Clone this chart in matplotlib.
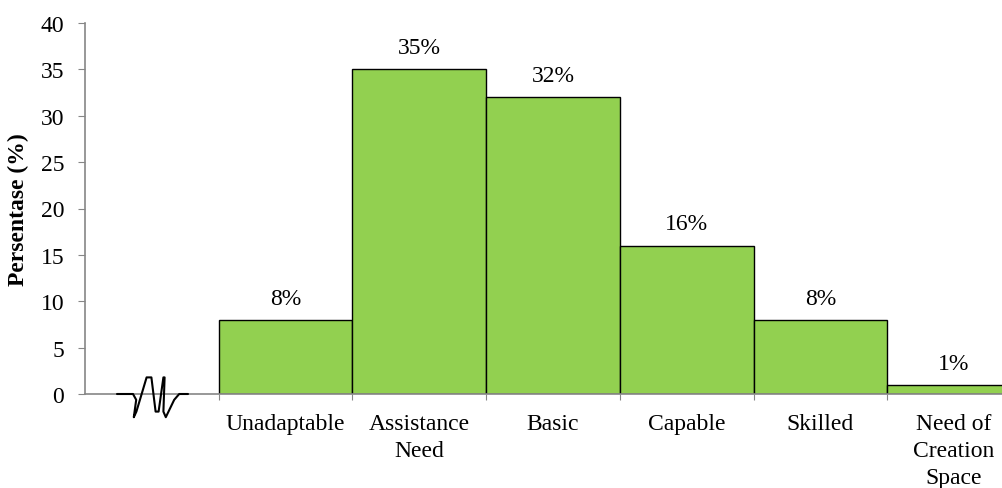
import numpy as np
import matplotlib
matplotlib.use("Agg")
import matplotlib.pyplot as plt

# Kategori kemampuan dan persentasenya
categories = ["Unadaptable", "Assistance\nNeed", "Basic", "Capable", "Skilled",
              "Need of\nCreation\nSpace"]
values = [8, 35, 32, 16, 8, 1]
value_labels = ["8%", "35%", "32%", "16%", "8%", "1%"]
y_ticks = [0, 5, 10, 15, 20, 25, 30, 35, 40]

plt.rcParams['font.family'] = ['Liberation Serif', 'DejaVu Serif']

GREEN = "#92D050"
GREY = "#868686"
FS = 17


def chaikin(pts, n=1):
    # haluskan sudut garis zig-zag
    pts = np.asarray(pts, dtype=float)
    for _ in range(n):
        q = 0.8 * pts[:-1] + 0.2 * pts[1:]
        r = 0.2 * pts[:-1] + 0.8 * pts[1:]
        mid = np.empty((2 * len(q), 2))
        mid[0::2] = q
        mid[1::2] = r
        pts = np.vstack([pts[:1], mid, pts[-1:]])
    return pts


fig = plt.figure(figsize=(10.03, 4.89), dpi=100)
ax = fig.add_axes([85 / 1003, 1 - 395 / 489, 918 / 1003, 371 / 489])

# slot 0 dikosongkan untuk tanda potong sumbu
x = np.arange(1, len(values) + 1)
ax.bar(x, values, width=1.0, color=GREEN, edgecolor="black", linewidth=1.0, zorder=2)

for xi, v, lab in zip(x, values, value_labels):
    ax.text(xi, v + 1.2, lab, ha="center", va="bottom", fontsize=FS)

ax.set_xlim(-0.5, 6.366)
ax.set_ylim(0, 40)
ax.set_yticks(y_ticks)
ax.tick_params(axis="y", direction="out", length=5, color=GREY, labelsize=FS, pad=10)

# tick di batas antar kategori, label di tengah batang
ax.set_xticks(np.arange(0.5, 6.5, 1.0))
ax.set_xticklabels([])
ax.tick_params(axis="x", which="major", direction="out", length=4, color=GREY)
ax.set_xticks(x, minor=True)
ax.set_xticklabels(categories, minor=True, fontsize=FS, linespacing=1.35)
ax.tick_params(axis="x", which="minor", length=0, pad=14)

for side in ["top", "right"]:
    ax.spines[side].set_visible(False)
for side in ["left", "bottom"]:
    ax.spines[side].set_color(GREY)
    ax.spines[side].set_linewidth(1.2)

ax.set_ylabel("Persentase (%)", fontsize=FS, fontweight="bold", labelpad=8)

# tanda potong sumbu x (zig-zag)
px_per_x = 133.7
px_per_y = 371 / 40
pts = [(117, 0), (137, 0), (133, -29), (150, 28), (157, -29),
       (165, 28), (163, -29), (177, 0), (188, 0)]
pts = chaikin(pts, 1)
bx = -0.5 + (pts[:, 0] - 85) / px_per_x
by = pts[:, 1] / px_per_y
ax.plot(bx, by, color="black", linewidth=1.5, clip_on=False, zorder=5,
        solid_joinstyle="round", solid_capstyle="round")

fig.savefig("out.png", dpi=100)
